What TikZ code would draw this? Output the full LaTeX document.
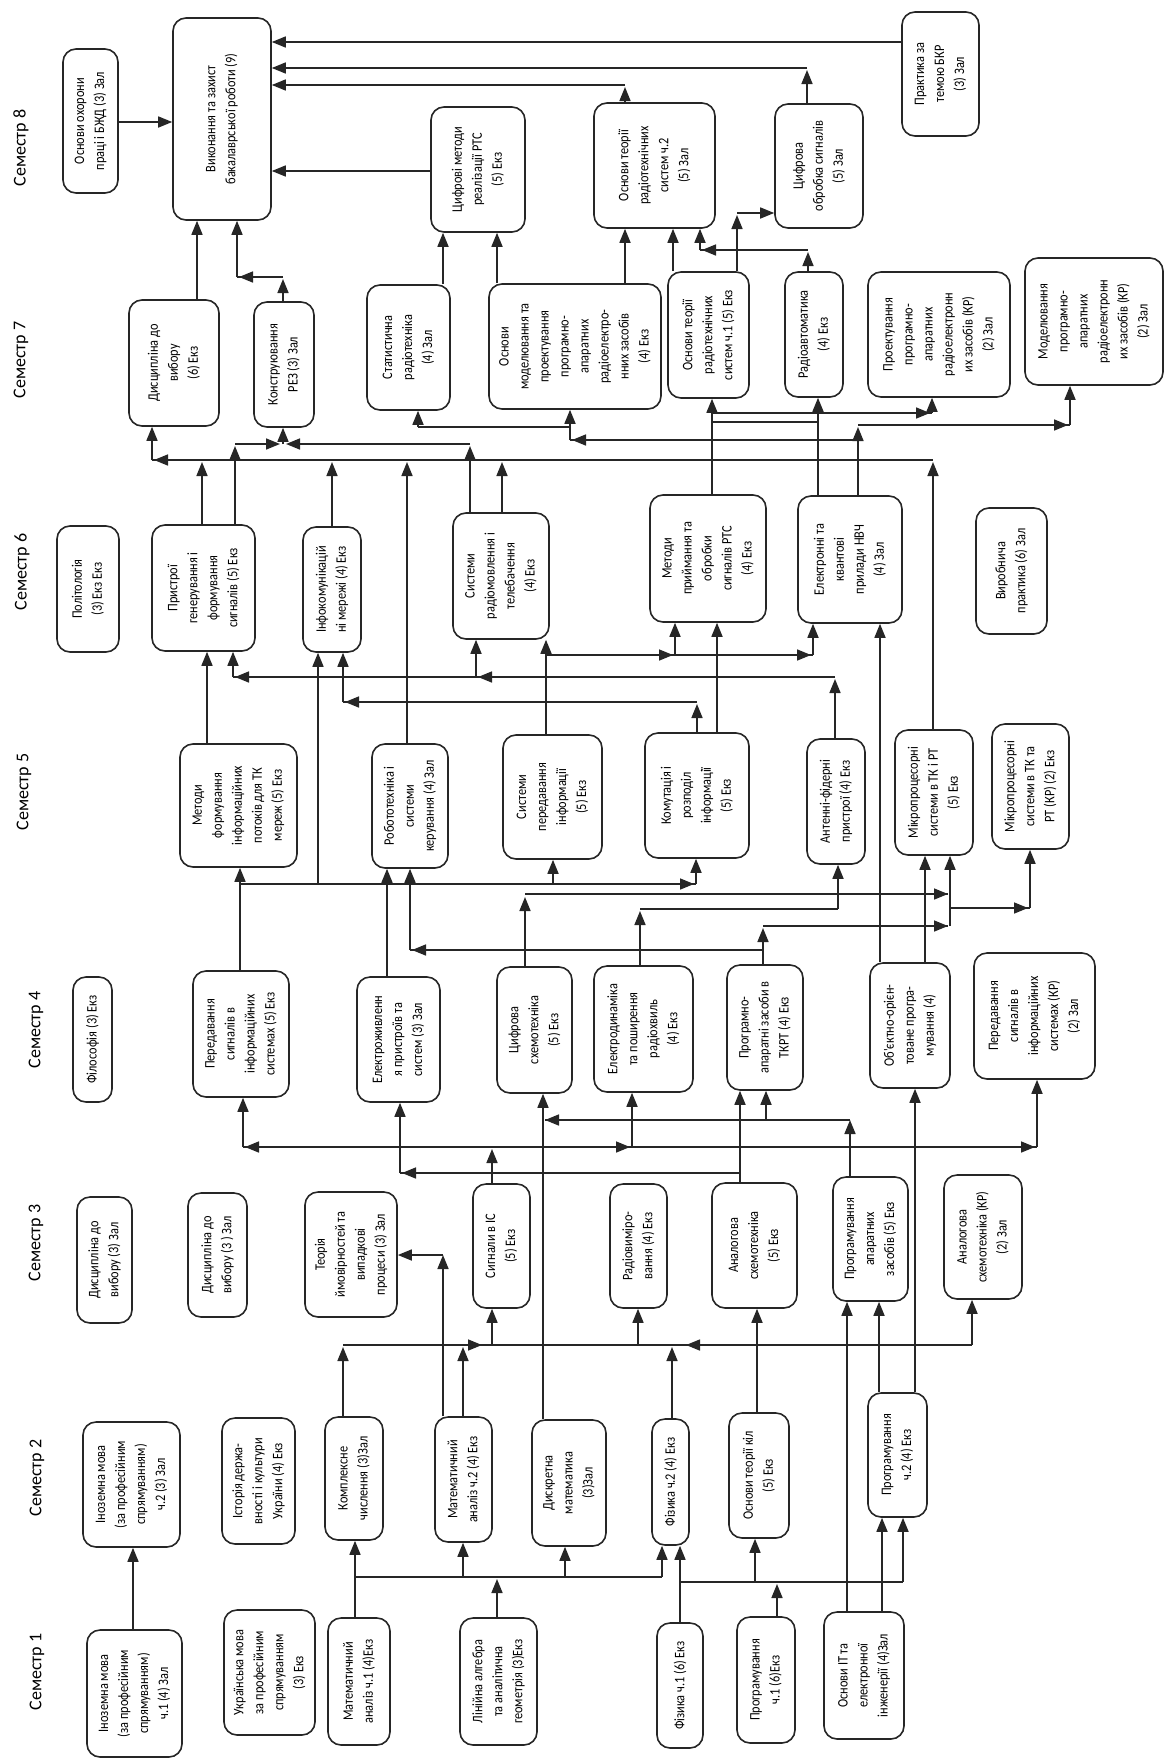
\documentclass[tikz,border=0pt]{standalone}
\usepackage{fontspec}
\setmainfont{Carlito}
\newfontfamily\boxfont{Carlito}[FakeStretch=0.85]
\usetikzlibrary{arrows.meta}
\tikzset{
 box/.style={draw=black!85, line width=1.6pt, rounded corners=13pt, rotate=90, align=center, inner sep=2pt, font=\boxfont\fontsize{14.5}{20}\selectfont},
 ln/.style={draw=black!85, line width=1.6pt},
 ar/.style={ln, -{Triangle[length=14pt,width=11pt]}},
 sem/.style={rotate=90, font=\fontsize{18}{20}\selectfont}
}
\newcommand\mybox[6]{\node[box, minimum width={(#5-#3)*1pt}, minimum height={(#4-#2)*1pt}] (#1) at ({(#2+#4)/2},{(#3+#5)/2}) {#6};}
\begin{document}
\begin{tikzpicture}[x=1pt,y=-1pt]
\fill[white] (0,0) rectangle (1168,1764);
\useasboundingbox (0,0) rectangle (1168,1764);
% headings
\node[sem] (s8) at (21,148) {Семестр 8};
\node[sem] (s7) at (21,360) {Семестр 7};
\node[sem] (s6) at (22,572) {Семестр 6};
\node[sem] (s5) at (24,792) {Семестр 5};
\node[sem] (s4) at (36,1030) {Семестр 4};
\node[sem] (s3) at (36,1243) {Семестр 3};
\node[sem] (s2) at (37,1478) {Семестр 2};
\node[sem] (s1) at (37,1672) {Семестр 1};
% semester 8
\mybox{ohor}{63}{49}{118}{193}{Основи охорони\\праці і БЖД (3) Зал}
\mybox{vyk}{173}{18}{271}{220}{Виконання та захист\\бакалаврської роботи (9)}
\mybox{cifm}{431}{107}{525}{232}{Цифрові методи\\реалізації РТС\\(5) Екз}
\mybox{otr2}{594}{103}{715}{228}{Основи теорії\\радіотехнічних\\систем ч.2\\(5) Зал}
\mybox{cifo}{775}{104}{863}{228}{Цифрова\\обробка сигналів\\(5) Зал}
\mybox{prak}{902}{12}{979}{136}{Практика за\\темою БКР\\(3) Зал}
% semester 7
\mybox{dv6}{129}{300}{219}{426}{Дисципліна до\\вибору\\(6) Екз}
\mybox{kons}{254}{302}{314}{427}{Конструювання\\РЕЗ (3) Зал}
\mybox{stat}{367}{285}{450}{410}{Статистична\\радіотехніка\\(4) Зал}
\mybox{osnm}{489}{284}{661}{409}{Основи\\моделювання та\\проектування\\програмно-\\апаратних\\радіоелектро-\\нних засобів\\(4) Екз}
\mybox{otr1}{668}{272}{749}{398}{Основи теорії\\радіотехнічних\\систем ч.1 (5) Екз}
\mybox{radavt}{785}{272}{843}{397}{Радіоавтоматика\\(4) Екз}
\mybox{proek}{868}{272}{1010}{397}{Проектування\\програмно-\\апаратних\\радіоелектронн\\их засобів (КР)\\(2) Зал}
\mybox{model}{1025}{258}{1163}{385}{Моделювання\\програмно-\\апаратних\\радіоелектронн\\их засобів (КР)\\(2) Зал}
% semester 6
\mybox{polit}{57}{526}{119}{652}{Політологія\\(3) Екз Екз}
\mybox{pristr}{152}{525}{255}{651}{Пристрої\\генерування і\\формування\\сигналів (5) Екз}
\mybox{infok}{303}{527}{361}{652}{Інфокомунікацій\\ні мережі (4) Екз}
\mybox{radmov}{453}{513}{549}{639}{Системи\\радіомовлення і\\телебачення\\(4) Екз}
\mybox{metpr}{650}{495}{766}{622}{Методи\\приймання та\\обробки\\сигналів РТС\\(4) Екз}
\mybox{elkv}{798}{496}{902}{623}{Електронні та\\квантові\\прилади НВЧ\\(4) Зал}
\mybox{vyrob}{976}{508}{1047}{634}{Виробнича\\практика (6) Зал}
% semester 5
\mybox{metf}{180}{744}{297}{867}{Методи\\формування\\інформаційних\\потоків для ТК\\мереж (5) Екз}
\mybox{robot}{372}{744}{448}{868}{Робототехніка і\\системи\\керування (4) Зал}
\mybox{sysper}{503}{735}{602}{859}{Системи\\передавання\\інформації\\(5) Екз}
\mybox{komut}{645}{733}{749}{858}{Комутація і\\розподіл\\інформації\\(5) Екз}
\mybox{anten}{807}{739}{865}{864}{Антенні-фідерні\\пристрої (4) Екз}
\mybox{mikro}{895}{730}{973}{855}{Мікропроцесорні\\системи в ТК і РТ\\(5) Екз}
\mybox{mikrokr}{992}{724}{1069}{849}{Мікропроцесорні\\системи в ТК та\\РТ (КР) (2) Екз}
% semester 4
\mybox{filos}{73}{977}{112}{1102}{Філософія (3) Екз}
\mybox{pereds}{193}{971}{289}{1097}{Передавання\\сигналів в\\інформаційних\\системах (5) Екз}
\mybox{elzh}{357}{977}{440}{1102}{Електроживленн\\я пристроїв та\\систем (3) Зал}
\mybox{cifs}{497}{967}{572}{1093}{Цифрова\\схемотехніка\\(5) Екз}
\mybox{eldyn}{594}{966}{693}{1092}{Електродинаміка\\та поширення\\радіохвиль\\(4) Екз}
\mybox{progap}{727}{965}{803}{1090}{Програмно-\\апаратні засоби в\\ТКРТ (4) Екз}
\mybox{oop}{870}{963}{950}{1088}{Об'єктно-орієн-\\товане програ-\\мування (4)}
\mybox{peredkr}{974}{953}{1095}{1079}{Передавання\\сигналів в\\інформаційних\\системах (КР)\\(2) Зал}
% semester 3
\mybox{dv3a}{77}{1197}{132}{1323}{Дисципліна до\\вибору (3) Зал}
\mybox{dv3b}{188}{1193}{247}{1317}{Дисципліна до\\вибору (3 ) Зал}
\mybox{teor}{305}{1192}{397}{1317}{Теорія\\ймовірностей та\\випадкові\\процеси (3) Зал}
\mybox{sygn}{473}{1184}{530}{1308}{Сигнали в ІС\\(5) Екз}
\mybox{radvym}{610}{1184}{667}{1308}{Радіовиміро-\\вання (4) Екз}
\mybox{analog}{712}{1183}{797}{1308}{Аналогова\\схемотехніка\\(5) Екз}
\mybox{paz}{833}{1177}{908}{1301}{Програмування\\апаратних\\засобів (5) Екз}
\mybox{analogkr}{944}{1175}{1022}{1299}{Аналогова\\схемотехніка (КР)\\(2) Зал}
% semester 2
\mybox{inm2}{83}{1422}{180}{1547}{Іноземна мова\\(за професійним\\спрямуванням)\\ч.2 (3) Зал}
\mybox{istor}{222}{1418}{295}{1544}{Історія держа-\\вності і культури\\України (4) Екз}
\mybox{kompl}{325}{1417}{383}{1540}{Комплексне\\числення (3)Зал}
\mybox{matan2}{435}{1417}{492}{1542}{Математичний\\аналіз ч.2 (4) Екз}
\mybox{dyskr}{532}{1420}{606}{1546}{Дискретна\\математика\\(3)Зал}
\mybox{fiz2}{652}{1419}{689}{1545}{Фізика ч.2 (4) Екз}
\mybox{otk}{729}{1413}{789}{1538}{Основи теорії кіл\\(5) Екз}
\mybox{progr2}{868}{1393}{927}{1517}{Програмування\\ч.2 (4) Екз}
% semester 1
\mybox{inm1}{87}{1630}{182}{1757}{Іноземна мова\\(за професійним\\спрямуванням)\\ч.1 (4) Зал}
\mybox{ukr}{224}{1610}{315}{1735}{Українська мова\\за професійним\\спрямуванням\\(3) Екз}
\mybox{matan1}{328}{1618}{390}{1745}{Математичний\\аналіз ч.1 (4)Екз}
\mybox{linal}{460}{1618}{537}{1745}{Лінійна алгебра\\та аналітична\\геометрія (3)Екз}
\mybox{fiz1}{657}{1623}{703}{1748}{Фізика ч.1 (6) Екз}
\mybox{progr1}{737}{1617}{795}{1743}{Програмування\\ч.1 (6)Екз}
\mybox{osnit}{824}{1612}{904}{1739}{Основи ІТ та\\електронної\\інженерії (4)Зал}
% ---- connectors: sem1 -> sem2
\draw[ar] (inm1.east -| 133,0) -- (inm2.west -| 133,0);
\draw[ar] (matan1.east -| 355,0) -- (kompl.west -| 355,0);
\draw[ln] (355,1577) -- (662,1577);
\draw[ar] (662,1577) -- (fiz2.west -| 662,0);
\draw[ar] (463,1577) -- (matan2.west -| 463,0);
\draw[ar] (565,1577) -- (dyskr.west -| 565,0);
\draw[ar] (linal.east -| 497,0) -- (497,1579);
\draw[ar] (fiz1.east -| 680,0) -- (fiz2.west -| 680,0);
\draw[ln] (680,1582) -- (903,1582);
\draw[ar] (755,1582) -- (otk.west -| 755,0);
\draw[ar] (903,1582) -- (progr2.west -| 903,0);
\draw[ar] (progr1.east -| 777,0) -- (777,1584);
\draw[ar] (osnit.east -| 882,0) -- (progr2.west -| 882,0);
\draw[ar] (osnit.east -| 847,0) -- (paz.west -| 847,0);
% sem2 -> sem3
\draw[ln] (343,1345) -- (972,1345);
\draw[ar] (kompl.east -| 343,0) -- (343,1347);
\draw[ar] (440,1345) -- (482,1345);
\draw[ar] (492,1345) -- (sygn.west -| 492,0);
\draw[ar] (matan2.east -| 463,0) -- (463,1347);
\draw[ar] (fiz2.east -| 672,0) -- (672,1347);
\draw[ar] (720,1345) -- (686,1345);
\draw[ar] (638,1345) -- (radvym.west -| 638,0);
\draw[ar] (972,1345) -- (analogkr.west -| 972,0);
\draw[ar] (matan2.east -| 443,0) -- (443,1255);
\draw[ar] (443,1255) -- (teor.south |- 0,1255);
\draw[ar] (dyskr.east -| 543,0) -- (cifs.west -| 543,0);
\draw[ar] (otk.east -| 757,0) -- (analog.west -| 757,0);
\draw[ar] (progr2.east -| 879,0) -- (paz.west -| 879,0);
\draw[ar] (progr2.east -| 915,0) -- (oop.west -| 915,0);
% sem3 -> sem4
\draw[ln] (243,1147) -- (1037,1147);
\draw[ar] (275,1147) -- (245,1147);
\draw[ar] (243,1147) -- (pereds.west -| 243,0);
\draw[ar] (sygn.east -| 492,0) -- (492,1149);
\draw[ar] (600,1147) -- (630,1147);
\draw[ar] (632,1147) -- (eldyn.west -| 632,0);
\draw[ar] (1000,1147) -- (1035,1147);
\draw[ar] (1037,1147) -- (peredkr.west -| 1037,0);
\draw[ar] (analog.east -| 740,0) -- (progap.west -| 740,0);
\draw[ln] (740,1173) -- (400,1173);
\draw[ar] (440,1173) -- (402,1173);
\draw[ar] (400,1173) -- (elzh.west -| 400,0);
\draw[ar] (paz.east -| 850,0) -- (850,1120);
\draw[ln] (850,1120) -- (545,1120);
\draw[ar] (580,1120) -- (545,1120);
\draw[ar] (766,1120) -- (progap.west -| 766,0);
% sem4 -> sem5
\draw[ar] (pereds.east -| 240,0) -- (metf.west -| 240,0);
\draw[ln] (240,884) -- (696,884);
\draw[ar] (660,884) -- (694,884);
\draw[ar] (696,884) -- (komut.west -| 696,0);
\draw[ar] (553,884) -- (sysper.west -| 553,0);
\draw[ar] (318,884) -- (infok.west -| 318,0);
\draw[ar] (elzh.east -| 387,0) -- (robot.west -| 387,0);
\draw[ar] (progap.east -| 763,0) -- (763,928);
\draw[ln] (763,950) -- (410,950);
\draw[ar] (450,950) -- (412,950);
\draw[ar] (410,950) -- (robot.west -| 410,0);
\draw[ln] (763,926) -- (948,926);
\draw[ar] (910,926) -- (948,926);
\draw[ar] (cifs.east -| 525,0) -- (525,897);
\draw[ln] (525,894) -- (948,894);
\draw[ar] (905,894) -- (948,894);
\draw[ar] (950,926) -- (mikro.west -| 950,0);
\draw[ln] (950,908) -- (1030,908);
\draw[ar] (995,908) -- (1028,908);
\draw[ar] (1030,908) -- (mikrokr.west -| 1030,0);
\draw[ar] (eldyn.east -| 640,0) -- (640,911);
\draw[ln] (640,909) -- (838,909);
\draw[ar] (838,909) -- (anten.west -| 838,0);
\draw[ar] (oop.east -| 880,0) -- (elkv.west -| 880,0);
\draw[ar] (oop.east -| 925,0) -- (mikro.west -| 925,0);
% sem5 -> sem6
\draw[ar] (metf.east -| 207,0) -- (pristr.west -| 207,0);
\draw[ar] (anten.east -| 835,0) -- (835,679);
\draw[ln] (835,677) -- (233,677);
\draw[ar] (270,677) -- (235,677);
\draw[ar] (233,677) -- (pristr.west -| 233,0);
\draw[ar] (510,677) -- (478,677);
\draw[ar] (476,677) -- (radmov.west -| 476,0);
\draw[ar] (komut.east -| 697,0) -- (697,704);
\draw[ln] (697,702) -- (343,702);
\draw[ar] (380,702) -- (345,702);
\draw[ar] (343,702) -- (infok.west -| 343,0);
\draw[ar] (sysper.east -| 546,0) -- (radmov.west -| 546,0);
\draw[ln] (546,655) -- (813,655);
\draw[ar] (640,655) -- (673,655);
\draw[ar] (675,655) -- (metpr.west -| 675,0);
\draw[ar] (780,655) -- (811,655);
\draw[ar] (813,655) -- (elkv.west -| 813,0);
\draw[ar] (komut.east -| 717,0) -- (metpr.west -| 717,0);
% sem6 -> sem7
\draw[ln] (152,460) -- (933,460);
\draw[ar] (190,460) -- (154,460);
\draw[ar] (152,460) -- (dv6.west -| 152,0);
\draw[ar] (pristr.east -| 202,0) -- (202,462);
\draw[ar] (infok.east -| 332,0) -- (332,462);
\draw[ar] (robot.east -| 407,0) -- (407,462);
\draw[ar] (radmov.east -| 502,0) -- (502,462);
\draw[ar] (mikro.east -| 933,0) -- (933,462);
\draw[ar] (pristr.east -| 235,0) -- (235,446);
\draw[ln] (235,444) -- (278,444);
\draw[ar] (250,444) -- (280,444);
\draw[ar] (radmov.east -| 470,0) -- (470,446);
\draw[ln] (470,444) -- (288,444);
\draw[ar] (320,444) -- (286,444);
\draw[ar] (283,444) -- (kons.west -| 283,0);
\draw[ar] (metpr.east -| 712,0) -- (otr1.west -| 712,0);
\draw[ar] (elkv.east -| 818,0) -- (radavt.west -| 818,0);
\draw[ln] (818,422) -- (712,422);
\draw[ar] (elkv.east -| 858,0) -- (858,427);
\draw[ln] (858,425) -- (1070,425);
\draw[ar] (1030,425) -- (1068,425);
\draw[ar] (1070,425) -- (model.west -| 1070,0);
\draw[ln] (418,427) -- (570,427);
\draw[ar] (418,427) -- (stat.west -| 418,0);
\draw[ln] (570,440) -- (858,440);
\draw[ar] (610,440) -- (572,440);
\draw[ar] (570,440) -- (osnm.west -| 570,0);
\draw[ln] (712,413) -- (932,413);
\draw[ar] (895,413) -- (930,413);
\draw[ar] (932,413) -- (proek.west -| 932,0);
% sem7 -> sem8
\draw[ar] (dv6.east -| 197,0) -- (vyk.west -| 197,0);
\draw[ar] (kons.east -| 283,0) -- (283,279);
\draw[ln] (283,277) -- (237,277);
\draw[ar] (265,277) -- (239,277);
\draw[ar] (237,277) -- (vyk.west -| 237,0);
\draw[ar] (stat.east -| 443,0) -- (cifm.west -| 443,0);
\draw[ar] (osnm.east -| 497,0) -- (cifm.west -| 497,0);
\draw[ar] (osnm.east -| 625,0) -- (otr2.west -| 625,0);
\draw[ar] (otr1.east -| 673,0) -- (otr2.west -| 673,0);
\draw[ar] (otr1.east -| 737,0) -- (737,215);
\draw[ar] (737,213) -- (cifo.north |- 0,213);
\draw[ar] (radavt.east -| 808,0) -- (808,252);
\draw[ln] (808,250) -- (700,250);
\draw[ar] (740,250) -- (702,250);
\draw[ar] (700,250) -- (otr2.west -| 700,0);
\draw[ar] (otr2.east -| 625,0) -- (625,87);
\draw[ar] (625,85) -- (vyk.south |- 0,85);
\draw[ar] (cifo.east -| 807,0) -- (807,70);
\draw[ar] (807,68) -- (vyk.south |- 0,68);
\draw[ar] (prak.north |- 0,42) -- (vyk.south |- 0,42);
\draw[ar] (cifm.north |- 0,171) -- (vyk.south |- 0,171);
\draw[ar] (ohor.south |- 0,122) -- (vyk.north |- 0,122);
\end{tikzpicture}
\end{document}
